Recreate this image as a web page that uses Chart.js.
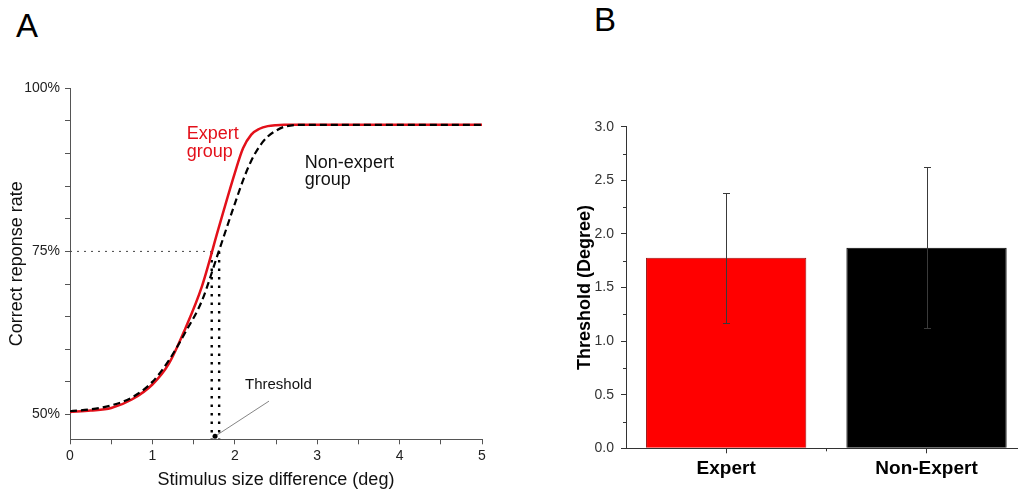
<!DOCTYPE html>
<html>
<head>
<meta charset="utf-8">
<script src="https://cdn.jsdelivr.net/npm/chart.js@4"></script>
<style>
  html, body { margin: 0; padding: 0; background: #fff; overflow: hidden; }
  body { width: 1018px; height: 492px; position: relative; font-family: "Liberation Sans", Arial, sans-serif; }
  .panel { position: absolute; font-size: 33px; color: #000; line-height: 1; }
  #wrapA { position: absolute; left: 0; top: 0; width: 540px; height: 492px; }
  #wrapB { position: absolute; left: 560px; top: 0; width: 480px; height: 492px; }
</style>
</head>
<body>
<div class="panel" style="left:16px; top:9px;">A</div>
<div class="panel" style="left:594px; top:3px;">B</div>
<div id="wrapA"><canvas id="curveChart" width="540" height="492"></canvas></div>
<div id="wrapB"><canvas id="barChart" width="480" height="492"></canvas></div>
<script>
// Psychometric curves (panel A)
const stimulus = [0, 0.25, 0.5, 0.75, 1, 1.2, 1.4, 1.6, 1.8, 2.0, 2.1, 2.2, 2.3, 2.4, 2.5, 2.6, 2.8, 3, 4, 5];
const expertRate = [50.4, 50.6, 51.0, 52.3, 54.6, 57.8, 63.2, 69.6, 78.4, 87.0, 90.8, 92.9, 93.8, 94.2, 94.35, 94.4, 94.4, 94.4, 94.4, 94.4];
const nonExpertRate = [50.5, 50.8, 51.4, 52.6, 55.0, 58.3, 62.6, 67.4, 74.8, 82.3, 85.9, 88.9, 91.1, 92.6, 93.5, 94.1, 94.4, 94.4, 94.4, 94.4];
const criterion = 75;
const thresholdExpert = 1.72;
const thresholdNonExpert = 1.81;
const rateTicks = [50, 55, 60, 65, 70, 75, 80, 85, 90, 95, 100];

// Thresholds (panel B)
const groups = ["Expert", "Non-Expert"];
const thresholdMean = [1.777, 1.870];
const thresholdErr = [0.605, 0.752];

const FONT = "'Liberation Sans', Arial, sans-serif";
const AXIS = "#555";

const yMinA = 46.2;
const toXY = (xs, ys) => xs.map((x, i) => ({ x: x, y: ys[i] }));

const labelsA = {
    id: "labelsA",
    afterDatasetsDraw(chart) {
        const { ctx, scales: { x, y } } = chart;
        ctx.save();
        ctx.textBaseline = "middle";
        ctx.textAlign = "left";
        ctx.font = "18px " + FONT;
        ctx.fillStyle = "#e3101a";
        ctx.fillText("Expert", x.getPixelForValue(1.416), y.getPixelForValue(92.97));
        ctx.fillText("group", x.getPixelForValue(1.416), y.getPixelForValue(90.25));
        ctx.fillStyle = "#111";
        ctx.fillText("Non-expert", x.getPixelForValue(2.85), y.getPixelForValue(88.55));
        ctx.fillText("group", x.getPixelForValue(2.85), y.getPixelForValue(86.0));
        ctx.font = "15px " + FONT;
        ctx.fillText("Threshold", x.getPixelForValue(2.124), y.getPixelForValue(54.5));
        ctx.restore();
    }
};

new Chart(document.getElementById("curveChart"), {
    type: "line",
    data: {
        datasets: [{
            label: "Non-expert group",
            data: toXY(stimulus, nonExpertRate),
            borderColor: "#000",
            borderWidth: 2.2,
            borderDash: [7, 4],
            cubicInterpolationMode: "monotone",
            pointRadius: 0
        }, {
            label: "Expert group",
            data: toXY(stimulus, expertRate),
            borderColor: "#e3101a",
            borderWidth: 2.5,
            cubicInterpolationMode: "monotone",
            pointRadius: 0
        }, {
            label: "criterion",
            data: [{ x: 0, y: criterion }, { x: thresholdExpert, y: criterion }],
            borderColor: "#444",
            borderWidth: 1,
            borderDash: [2, 5],
            pointRadius: 0
        }, {
            label: "expert threshold",
            data: [{ x: thresholdExpert, y: criterion }, { x: thresholdExpert, y: yMinA }],
            borderColor: "#000",
            borderWidth: 2.4,
            borderDash: [2.5, 6],
            pointRadius: 0
        }, {
            label: "non-expert threshold",
            data: [{ x: thresholdNonExpert, y: criterion }, { x: thresholdNonExpert, y: yMinA }],
            borderColor: "#000",
            borderWidth: 2.4,
            borderDash: [2.5, 6],
            pointRadius: 0
        }, {
            label: "pointer",
            data: [{ x: 2.415, y: 52.05 }, { x: 1.76, y: 46.66 }],
            borderColor: "#666",
            borderWidth: 0.8,
            pointRadius: [0, 2.5],
            pointBackgroundColor: "#000",
            pointBorderWidth: 0
        }]
    },
    options: {
        responsive: false,
        animation: false,
        layout: { padding: { top: 88.3, right: 58, bottom: 0, left: 0 } },
        plugins: { legend: { display: false }, tooltip: { enabled: false } },
        scales: {
            x: {
                type: "linear",
                min: 0,
                max: 5,
                border: { color: AXIS, width: 1 },
                grid: { drawOnChartArea: false, color: AXIS, tickLength: 5 },
                ticks: {
                    stepSize: 0.5,
                    autoSkip: false,
                    maxRotation: 0,
                    padding: 3,
                    color: "#222",
                    font: { family: FONT, size: 14 },
                    callback: v => Number.isInteger(v) ? String(v) : ""
                },
                title: {
                    display: true,
                    text: "Stimulus size difference (deg)",
                    color: "#111",
                    font: { family: FONT, size: 18 },
                    padding: { top: 0, bottom: 1.2 }
                },
                afterFit: s => { s.height = 52.7; }
            },
            y: {
                type: "linear",
                min: yMinA,
                max: 100,
                border: { color: AXIS, width: 1 },
                grid: { drawOnChartArea: false, color: AXIS, tickLength: 5 },
                afterBuildTicks: s => { s.ticks = rateTicks.map(v => ({ value: v })); },
                ticks: {
                    padding: 5,
                    color: "#222",
                    font: { family: FONT, size: 14 },
                    callback: v => v % 25 === 0 ? v + "%" : ""
                },
                title: {
                    display: true,
                    text: "Correct reponse rate",
                    color: "#111",
                    font: { family: FONT, size: 18 },
                    padding: { top: 6.2, bottom: 0 }
                },
                afterFit: s => { s.width = 70; }
            }
        }
    },
    plugins: [labelsA]
});

// error bars + minor ticks for panel B
const extrasB = {
    id: "extrasB",
    afterDatasetsDraw(chart) {
        const { ctx, scales: { x, y } } = chart;
        ctx.save();
        ctx.strokeStyle = "#3a3a3a";
        ctx.lineWidth = 1;
        thresholdMean.forEach((m, i) => {
            const px = Math.round(x.getPixelForValue(i)) + 0.5;
            const hi = Math.round(y.getPixelForValue(m + thresholdErr[i])) + 0.5;
            const lo = Math.round(y.getPixelForValue(m - thresholdErr[i])) + 0.5;
            ctx.beginPath();
            ctx.moveTo(px, hi); ctx.lineTo(px, lo);
            ctx.moveTo(px - 3.5, hi); ctx.lineTo(px + 3.5, hi);
            ctx.moveTo(px - 3.5, lo); ctx.lineTo(px + 3.5, lo);
            ctx.stroke();
        });
        ctx.strokeStyle = "#333";
        ctx.beginPath();
        for (let v = 0.25; v < 3; v += 0.5) {
            const py = Math.round(y.getPixelForValue(v)) + 0.5;
            ctx.moveTo(x.left - 3, py); ctx.lineTo(x.left, py);
        }
        const mid = Math.round((x.getPixelForValue(0) + x.getPixelForValue(1)) / 2) + 0.5;
        ctx.moveTo(mid, y.bottom); ctx.lineTo(mid, y.bottom + 3);
        ctx.stroke();
        ctx.restore();
    }
};

new Chart(document.getElementById("barChart"), {
    type: "bar",
    data: {
        labels: groups,
        datasets: [{
            label: "Threshold",
            data: thresholdMean,
            backgroundColor: ["#ff0000", "#000000"],
            borderColor: ["#9a1010", "#000000"],
            borderWidth: 1,
            barPercentage: 0.8,
            categoryPercentage: 1
        }]
    },
    options: {
        responsive: false,
        animation: false,
        layout: { padding: { top: 126.7, right: 13.3, bottom: 0, left: 0 } },
        plugins: { legend: { display: false }, tooltip: { enabled: false } },
        scales: {
            x: {
                offset: true,
                border: { color: "#333", width: 1 },
                grid: { drawOnChartArea: false, offset: false, color: "#333", tickLength: 5 },
                ticks: {
                    padding: 4,
                    color: "#000",
                    font: { family: FONT, size: 19, weight: "bold" }
                },
                afterFit: s => { s.height = 43.7; }
            },
            y: {
                min: 0,
                max: 3,
                border: { color: "#333", width: 1 },
                grid: { drawOnChartArea: false, color: "#333", tickLength: 5 },
                ticks: {
                    stepSize: 0.5,
                    padding: 7,
                    color: "#333",
                    font: { family: FONT, size: 14 },
                    callback: v => v.toFixed(1)
                },
                title: {
                    display: true,
                    text: "Threshold (Degree)",
                    color: "#000",
                    font: { family: FONT, size: 18, weight: "bold" },
                    padding: { top: 14.2, bottom: 0 }
                },
                afterFit: s => { s.width = 66; }
            }
        }
    },
    plugins: [extrasB]
});
</script>
</body>
</html>
